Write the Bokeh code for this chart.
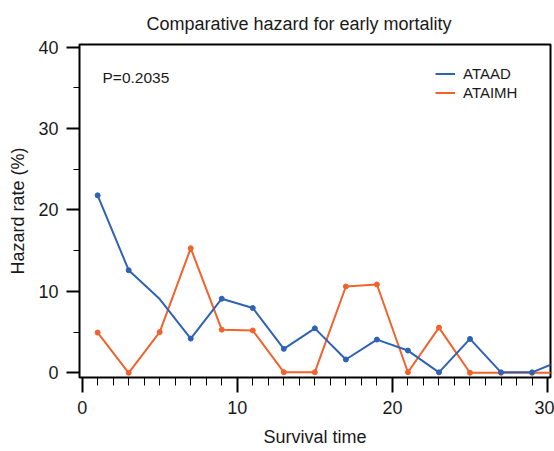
from bokeh.plotting import figure
from bokeh.models import (ColumnDataSource, Range1d, SingleIntervalTicker, Legend,
                          LegendItem, Label)
from bokeh.embed import file_html
from bokeh.resources import INLINE

# Data
times = [1, 3, 5, 7, 9, 11, 13, 15, 17, 19, 21, 23, 25, 27, 29, 31]
ataad = [21.8, 12.6, 9.06, 4.2, 9.1, 7.96, 2.94, 5.46, 1.63, 4.08, 2.73, 0.05, 4.16, 0.05, 0.05, 1.6]
ataad_marked = [True, True, False, True, True, True, True, True, True, True, True, True, True, True, True, False]
ataimh = [4.94, 0.0, 5.0, 15.3, 5.3, 5.2, 0.07, 0.07, 10.6, 10.85, 0.07, 5.55, 0.0, 0.0, 0.0, 0.0]
ataimh_marked = [True] * 15 + [False]
title_text = "Comparative hazard for early mortality"
p_text = "P=0.2035"

BLUE = "#2f62b4"
ORANGE = "#f2622c"
FONT = "Liberation Sans"
TXT = "#1a1a1a"

p = figure(width=554, height=451, output_backend="svg", toolbar_location=None,
           x_range=Range1d(-0.17, 30.19), y_range=Range1d(-0.58, 40.33),
           min_border_left=79, min_border_top=43, min_border_right=4, min_border_bottom=74)

p.title.text = title_text
p.title.align = "left"
p.title.offset = 67
p.title.standoff = 22
p.title.text_font = FONT
p.title.text_font_size = "18px"
p.title.text_font_style = "normal"
p.title.text_color = TXT

p.grid.visible = False
p.outline_line_color = "black"
p.outline_line_width = 2
p.background_fill_color = "white"
p.border_fill_color = "white"

p.xaxis.ticker = SingleIntervalTicker(interval=10, num_minor_ticks=10)
p.yaxis.ticker = SingleIntervalTicker(interval=10, num_minor_ticks=2)
for ax in (p.xaxis, p.yaxis):
    ax.axis_line_color = None
    ax.major_tick_in = 0
    ax.minor_tick_in = 0
    ax.major_tick_line_color = "black"
    ax.minor_tick_line_color = "black"
    ax.major_tick_line_width = 2
    ax.minor_tick_line_width = 1
    ax.major_label_text_font = FONT
    ax.major_label_text_font_size = "18px"
    ax.major_label_text_color = TXT
    ax.axis_label_text_font = FONT
    ax.axis_label_text_font_size = "18px"
    ax.axis_label_text_font_style = "normal"
    ax.axis_label_text_color = TXT
p.xaxis.major_tick_out = 15
p.xaxis.minor_tick_out = 8
p.yaxis.major_tick_out = 13
p.yaxis.minor_tick_out = 6
p.xaxis.major_label_standoff = 8
p.yaxis.major_label_standoff = 8
p.xaxis.axis_label = "Survival time"
p.yaxis.axis_label = "Hazard rate (%)"
p.xaxis.axis_label_standoff = 10
p.yaxis.axis_label_standoff = 7

src_o = ColumnDataSource(dict(x=times, y=ataimh))
src_b = ColumnDataSource(dict(x=times, y=ataad))
mo = ColumnDataSource(dict(x=[t for t, m in zip(times, ataimh_marked) if m],
                           y=[v for v, m in zip(ataimh, ataimh_marked) if m]))
mb = ColumnDataSource(dict(x=[t for t, m in zip(times, ataad_marked) if m],
                           y=[v for v, m in zip(ataad, ataad_marked) if m]))

lo = p.line("x", "y", source=src_o, line_color=ORANGE, line_width=2)
p.scatter("x", "y", source=mo, size=5, fill_color=ORANGE, line_color=ORANGE)
lb = p.line("x", "y", source=src_b, line_color=BLUE, line_width=2)
p.scatter("x", "y", source=mb, size=5, fill_color=BLUE, line_color=BLUE)

legend = Legend(items=[LegendItem(label="ATAAD", renderers=[lb]),
                       LegendItem(label="ATAIMH", renderers=[lo])],
                location=(356, 275), padding=0, margin=0, spacing=0,
                glyph_width=20, glyph_height=19, label_height=19,
                label_standoff=8, border_line_color=None, background_fill_alpha=0,
                label_text_font=FONT, label_text_font_size="15px", label_text_color=TXT)
p.add_layout(legend, "center")

p.add_layout(Label(x=23, y=300, x_units="screen", y_units="screen", text=p_text,
                   text_font=FONT, text_font_size="15.5px", text_color=TXT,
                   text_baseline="middle"))

open("out.html", "w").write(file_html(p, INLINE))
